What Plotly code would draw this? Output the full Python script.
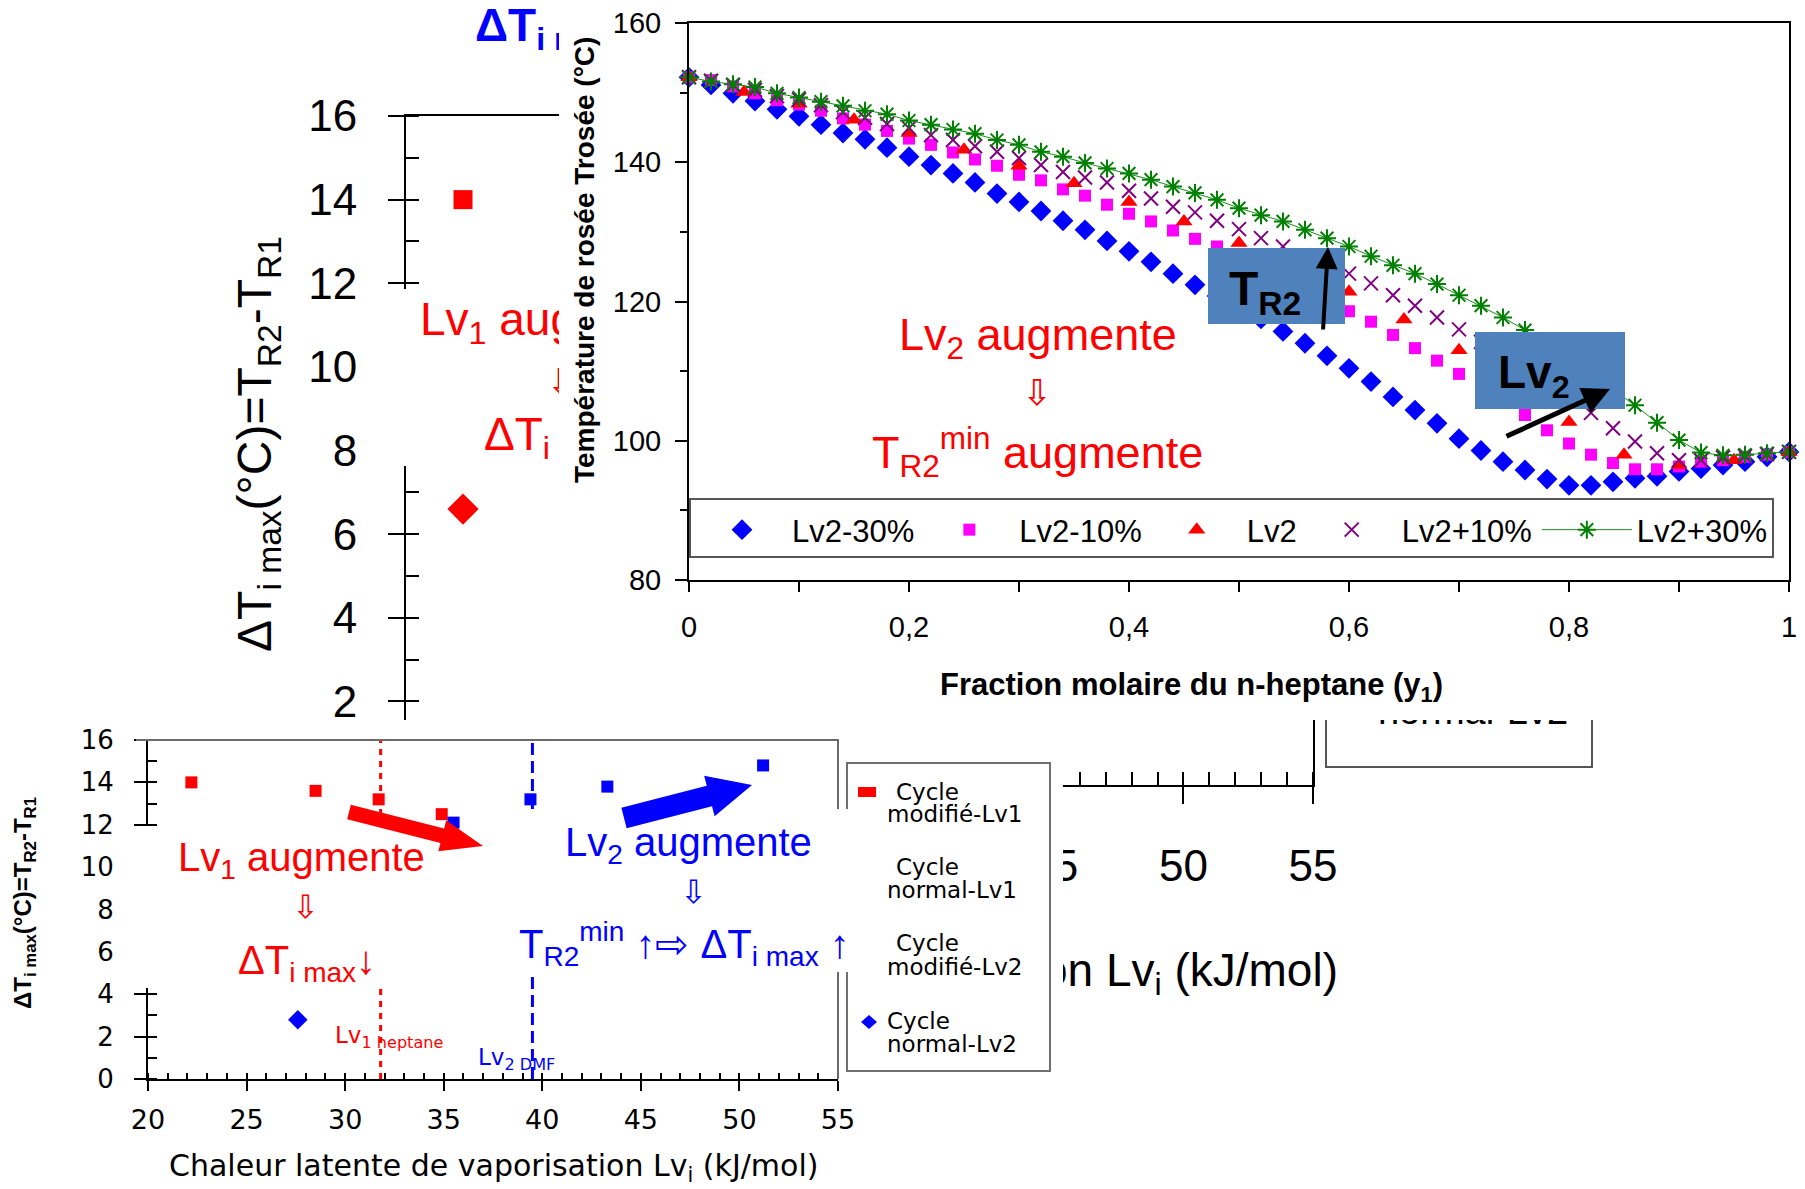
import math
import plotly.graph_objects as go

W, H = 1805, 1189
ARIAL = "Liberation Sans, Arial, sans-serif"
DEJAVU = "DejaVu Sans, sans-serif"

# ------------------------------------------------------------------
# DATA 1 : dew temperature vs mole fraction of n-heptane (top-right chart)
# ------------------------------------------------------------------
y1_frac = [0.00, 0.02, 0.04, 0.06, 0.08, 0.10, 0.12, 0.14, 0.16, 0.18,
           0.20, 0.22, 0.24, 0.26, 0.28, 0.30, 0.32, 0.34, 0.36, 0.38,
           0.40, 0.42, 0.44, 0.46, 0.48, 0.50, 0.52, 0.54, 0.56, 0.58,
           0.60, 0.62, 0.64, 0.66, 0.68, 0.70, 0.72, 0.74, 0.76, 0.78,
           0.80, 0.82, 0.84, 0.86, 0.88, 0.90, 0.92, 0.94, 0.96, 0.98, 1.00]
t_lv2_m30 = [152.2, 151.1, 149.9, 148.8, 147.6, 146.6, 145.4, 144.2, 143.3, 142.1,
             140.8, 139.6, 138.4, 137.1, 135.5, 134.3, 133.0, 131.6, 130.3, 128.7,
             127.2, 125.7, 124.0, 122.4, 120.8, 119.2, 117.5, 115.7, 114.0, 112.2,
             110.4, 108.5, 106.3, 104.4, 102.5, 100.3, 98.6, 97.0, 95.8, 94.5,
             93.6, 93.6, 94.1, 94.6, 94.9, 95.6, 96.0, 96.5, 97.0, 97.7, 98.4]
t_lv2_m10 = [152.2, 151.8, 150.9, 149.9, 148.9, 148.3, 147.4, 146.3, 145.4, 144.5,
             143.4, 142.5, 141.4, 140.4, 139.5, 138.2, 137.4, 136.1, 135.2, 133.9,
             132.6, 131.5, 130.2, 129.0, 127.9, 126.7, 125.3, 123.7, 122.0, 120.3,
             118.6, 117.1, 115.2, 113.3, 111.5, 109.6, 107.8, 105.9, 103.7, 101.5,
             99.6, 98.0, 96.8, 95.9, 95.9, 96.3, 97.0, 97.2, 97.7, 98.0, 98.4]
t_lv2_p10 = [152.2, 151.7, 151.1, 150.4, 149.5, 149.0, 148.2, 147.2, 146.4, 145.5,
             144.9, 143.9, 143.2, 142.3, 141.5, 140.6, 139.6, 138.6, 137.8, 137.1,
             135.9, 134.8, 133.6, 132.8, 131.6, 130.4, 129.1, 127.9, 126.6, 125.3,
             124.0, 122.6, 120.9, 119.4, 117.7, 116.0, 114.2, 112.3, 110.3, 108.3,
             106.2, 104.0, 101.8, 99.9, 98.2, 97.2, 97.2, 97.6, 97.8, 98.1, 98.4]
t_lv2_p30 = [152.2, 151.6, 151.2, 150.8, 149.9, 149.3, 148.7, 148.1, 147.4, 146.9,
             146.0, 145.4, 144.7, 144.1, 143.2, 142.5, 141.5, 140.8, 139.9, 139.1,
             138.4, 137.5, 136.5, 135.6, 134.6, 133.4, 132.4, 131.5, 130.3, 129.1,
             127.9, 126.5, 125.2, 124.0, 122.5, 120.9, 119.4, 117.7, 115.9, 114.0,
             111.8, 109.5, 107.3, 105.1, 102.6, 100.1, 98.3, 97.9, 98.0, 98.2, 98.4]
y1_frac_lv2 = [0.00, 0.05, 0.10, 0.15, 0.20, 0.25, 0.30, 0.35, 0.40, 0.45,
               0.50, 0.55, 0.60, 0.65, 0.70, 0.75, 0.80, 0.85, 0.90, 0.95, 1.00]
t_lv2 = [152.2, 150.1, 148.4, 146.1, 144.2, 141.8, 139.5, 137.0, 134.3, 131.5,
         128.4, 125.0, 121.4, 117.4, 113.0, 107.9, 102.7, 98.0, 96.5, 97.2, 98.4]
top_series_names = ["Lv2-30%", "Lv2-10%", "Lv2", "Lv2+10%", "Lv2+30%"]
top_xticks = [0, 0.2, 0.4, 0.6, 0.8, 1.0]
top_xticklabels = ["0", "0,2", "0,4", "0,6", "0,8", "1"]
top_xminor = [0.1, 0.3, 0.5, 0.7, 0.9]
top_yticks = [80, 100, 120, 140, 160]

# ------------------------------------------------------------------
# DATA 2 : ΔT_i max vs latent heat of vaporisation (bottom chart, and its
#          enlarged copy in the background)
# ------------------------------------------------------------------
lv_mod_lv1 = [22.2, 28.5, 31.7, 34.9]      # Cycle modifié-Lv1
dt_mod_lv1 = [14.0, 13.6, 13.2, 12.5]
lv_norm_lv1 = [22.2]                       # Cycle normal-Lv1
dt_norm_lv1 = [6.6]
lv_mod_lv2 = [35.5, 39.4, 43.3, 51.2]      # Cycle modifié-Lv2
dt_mod_lv2 = [12.1, 13.2, 13.8, 14.8]
lv_norm_lv2 = [27.6]                       # Cycle normal-Lv2
dt_norm_lv2 = [2.8]
lv1_heptane = 31.8
lv2_dmf = 39.5
lv_ticks = [20, 25, 30, 35, 40, 45, 50, 55]
dt_ticks = [0, 2, 4, 6, 8, 10, 12, 14, 16]
lv_range = [20, 55]
dt_range = [0, 16]


# ------------------------------------------------------------------
def px(v):
    return v / W


def py(v):
    return 1 - v / H


fig = go.Figure()
axes_layout = {}


def hidden_axis(domain, anchor):
    return dict(domain=domain, anchor=anchor, range=[0, 1], showline=False, showgrid=False,
                zeroline=False, showticklabels=False, ticks="", fixedrange=True)


def panel(n, box):
    """invisible panel (white background) occupying a pixel box"""
    x0, y0, x1, y1 = box
    axes_layout[f"xaxis{n}"] = hidden_axis([px(x0), px(x1)], f"y{n}")
    axes_layout[f"yaxis{n}"] = hidden_axis([py(y1), py(y0)], f"x{n}")


def panel_text(n, box, X, Y, text, size, color="black", family=ARIAL, pos="middle right"):
    """text drawn inside a panel so that later panels can hide part of it"""
    x0, y0, x1, y1 = box
    fig.add_trace(go.Scatter(x=[(X - x0) / (x1 - x0)], y=[(y1 - Y) / (y1 - y0)], mode="text",
                             text=[text], textposition=pos,
                             textfont=dict(family=family, size=size, color=color),
                             xaxis=f"x{n}", yaxis=f"y{n}", showlegend=False,
                             cliponaxis=False, hoverinfo="skip"))


# ---------------- 1. background (large, partly hidden) chart : x / y ----------------
fig.add_trace(go.Scatter(x=[lv1_heptane, lv1_heptane], y=dt_range, mode="lines",
                         line=dict(color="red", width=4, dash="8px,8px"),
                         xaxis="x", yaxis="y", showlegend=False, hoverinfo="skip"))
fig.add_trace(go.Scatter(x=[lv2_dmf, lv2_dmf], y=dt_range, mode="lines",
                         line=dict(color="blue", width=4, dash="16px,8px"),
                         xaxis="x", yaxis="y", showlegend=False, hoverinfo="skip"))
for xs, ys, sym, col, sz in [(lv_mod_lv1, dt_mod_lv1, "square", "red", 19),
                             (lv_norm_lv1, dt_norm_lv1, "diamond", "red", 24),
                             (lv_mod_lv2, dt_mod_lv2, "square", "blue", 19),
                             (lv_norm_lv2, dt_norm_lv2, "diamond", "blue", 24)]:
    fig.add_trace(go.Scatter(x=xs, y=ys, mode="markers",
                             marker=dict(symbol=sym, color=col, size=sz),
                             xaxis="x", yaxis="y", showlegend=False, cliponaxis=False))

# ---------------- 2-5. text panels of the background chart ----------------
BOX_A = (385, 289, 600, 466)          # white label box hiding part of the y axis
panel(2, BOX_A)
panel_text(2, BOX_A, 420, 323, "Lv<sub>1</sub> augmente", 46, color="red")
panel_text(2, BOX_A, 562, 386, "⇩", 37, color="red", family=DEJAVU, pos="middle center")
panel_text(2, BOX_A, 484, 438, "ΔT<sub>i max</sub>↓", 46, color="red")
BOX_B = (470, 20, 480, 36)
panel(3, BOX_B)
panel_text(3, BOX_B, 475, 29, "<b>ΔT<sub>i max</sub></b>", 46, color="blue")
BOX_C = (1331, 969, 1341, 979)
panel(4, BOX_C)
panel_text(4, BOX_C, 1338, 974, "Chaleur latente de vaporisation Lv<sub>i</sub> (kJ/mol)", 46,
           pos="middle left")
BOX_D = (1468, 709, 1478, 719)
panel(5, BOX_D)
panel_text(5, BOX_D, 1473, 714, "normal-Lv2", 38, pos="middle center")

# ---------------- 6. cover panel for the top-right figure ----------------
panel(6, (559, 0, W, 720))
fig.add_trace(go.Scatter(x=[], y=[], xaxis="x6", yaxis="y6", showlegend=False))

# ---------------- 7. top-right chart ----------------
fig.add_trace(go.Scatter(x=y1_frac, y=t_lv2_m30, mode="markers", name=top_series_names[0],
                         marker=dict(symbol="diamond", color="#0000FF", size=16),
                         xaxis="x7", yaxis="y7", cliponaxis=False))
fig.add_trace(go.Scatter(x=y1_frac, y=t_lv2_m10, mode="markers", name=top_series_names[1],
                         marker=dict(symbol="square", color="#FF00FF", size=12),
                         xaxis="x7", yaxis="y7", cliponaxis=False))
fig.add_trace(go.Scatter(x=y1_frac_lv2, y=t_lv2, mode="markers", name=top_series_names[2],
                         marker=dict(symbol="triangle-up", color="#FF0000", size=15),
                         xaxis="x7", yaxis="y7", cliponaxis=False))
fig.add_trace(go.Scatter(x=y1_frac, y=t_lv2_p10, mode="markers", name=top_series_names[3],
                         marker=dict(symbol="x-thin-open", color="#800080", size=14,
                                     line=dict(width=2, color="#800080")),
                         xaxis="x7", yaxis="y7", cliponaxis=False))
fig.add_trace(go.Scatter(x=y1_frac, y=t_lv2_p30, mode="lines+markers", name=top_series_names[4],
                         line=dict(color="#1e8c1e", width=1),
                         marker=dict(symbol="asterisk-open", color="#008000", size=15,
                                     line=dict(width=2, color="#008000")),
                         xaxis="x7", yaxis="y7", cliponaxis=False))

# ---------------- 8. cover panel for the bottom figure ----------------
panel(8, (0, 720, 1063, H))
fig.add_trace(go.Scatter(x=[], y=[], xaxis="x8", yaxis="y8", showlegend=False))

# ---------------- 9. bottom-left chart ----------------
fig.add_trace(go.Scatter(x=[lv1_heptane, lv1_heptane], y=dt_range, mode="lines",
                         line=dict(color="red", width=3, dash="6px,6px"),
                         xaxis="x9", yaxis="y9", showlegend=False, hoverinfo="skip"))
fig.add_trace(go.Scatter(x=[lv2_dmf, lv2_dmf], y=dt_range, mode="lines",
                         line=dict(color="blue", width=3, dash="12px,6px"),
                         xaxis="x9", yaxis="y9", showlegend=False, hoverinfo="skip"))
for xs, ys, sym, col, sz in [(lv_mod_lv1, dt_mod_lv1, "square", "red", 12),
                             (lv_norm_lv1, dt_norm_lv1, "diamond", "red", 15),
                             (lv_mod_lv2, dt_mod_lv2, "square", "blue", 12),
                             (lv_norm_lv2, dt_norm_lv2, "diamond", "blue", 15)]:
    fig.add_trace(go.Scatter(x=xs, y=ys, mode="markers",
                             marker=dict(symbol=sym, color=col, size=sz),
                             xaxis="x9", yaxis="y9", showlegend=False, cliponaxis=False))

# ------------------------------------------------------------------
# visible axes
# ------------------------------------------------------------------
axes_layout.update(
    xaxis=dict(domain=[px(406), px(1313)], anchor="y", range=lv_range, tickvals=lv_ticks,
               showline=True, mirror=True, linecolor="black", linewidth=2,
               ticks="outside", ticklen=17, tickwidth=2, tickcolor="black",
               tickfont=dict(family=ARIAL, size=44, color="black"), ticklabelstandoff=24,
               minor=dict(dtick=1, tick0=20, ticks="inside", ticklen=13, tickwidth=2, tickcolor="black"),
               showgrid=False, zeroline=False, fixedrange=True),
    yaxis=dict(domain=[py(785), py(116)], anchor="x", range=dt_range, tickvals=dt_ticks,
               showline=True, mirror=True, linecolor="black", linewidth=2,
               ticks="outside", ticklen=16, tickwidth=2, tickcolor="black",
               tickfont=dict(family=ARIAL, size=44, color="black"), ticklabelstandoff=22,
               minor=dict(dtick=1, tick0=0, ticks="inside", ticklen=13, tickwidth=2, tickcolor="black"),
               showgrid=False, zeroline=False, fixedrange=True),
    xaxis7=dict(domain=[px(689), px(1789)], anchor="y7", range=[0, 1],
                tickvals=top_xticks, ticktext=top_xticklabels,
                showline=True, mirror=True, linecolor="black", linewidth=2,
                ticks="outside", ticklen=10, tickwidth=2, tickcolor="black",
                tickfont=dict(family=ARIAL, size=29, color="black"), ticklabelstandoff=10,
                minor=dict(tickvals=top_xminor, ticks="outside", ticklen=10, tickwidth=2, tickcolor="black"),
                showgrid=False, zeroline=False, fixedrange=True),
    yaxis7=dict(domain=[py(580), py(23)], anchor="x7", range=[80, 160], tickvals=top_yticks,
                showline=True, mirror=True, linecolor="black", linewidth=2,
                ticks="outside", ticklen=12, tickwidth=2, tickcolor="black",
                tickfont=dict(family=ARIAL, size=29, color="black"), ticklabelstandoff=8,
                minor=dict(dtick=10, tick0=80, ticks="outside", ticklen=7, tickwidth=2, tickcolor="black"),
                showgrid=False, zeroline=False, fixedrange=True),
    xaxis9=dict(domain=[px(148), px(838)], anchor="y9", range=lv_range, tickvals=lv_ticks,
                showline=True, mirror=False, linecolor="black", linewidth=2,
                ticks="outside", ticklen=10, tickwidth=2, tickcolor="black",
                tickfont=dict(family=DEJAVU, size=27, color="black"), ticklabelstandoff=6,
                minor=dict(dtick=1, tick0=20, ticks="inside", ticklen=6, tickwidth=1.5, tickcolor="black"),
                showgrid=False, zeroline=False, fixedrange=True),
    yaxis9=dict(domain=[py(1079), py(740)], anchor="x9", range=dt_range, tickvals=dt_ticks,
                showline=True, mirror=False, linecolor="black", linewidth=2,
                ticks="outside", ticklen=12, tickwidth=2, tickcolor="black",
                tickfont=dict(family=DEJAVU, size=26, color="black"), ticklabelstandoff=15,
                minor=dict(dtick=1, tick0=0, ticks="inside", ticklen=9, tickwidth=1.5, tickcolor="black"),
                showgrid=False, zeroline=False, fixedrange=True),
)
fig.update_layout(**axes_layout)


# ------------------------------------------------------------------
# shapes (decorations)
# ------------------------------------------------------------------
def rect(x0, y0, x1, y1, fill="rgba(0,0,0,0)", line_color="rgba(0,0,0,0)", lw=0):
    return dict(type="rect", xref="paper", yref="paper", x0=px(x0), x1=px(x1), y0=py(y1), y1=py(y0),
                fillcolor=fill, line=dict(color=line_color, width=lw), layer="above")


def polyline(pts, color, lw, closed=False, fill="rgba(0,0,0,0)"):
    path = "M " + " L ".join(f"{px(a):.6f},{py(b):.6f}" for a, b in pts) + (" Z" if closed else "")
    return dict(type="path", path=path, xref="paper", yref="paper", fillcolor=fill,
                line=dict(color=color, width=lw), layer="above")


def block_arrow(tail, tip, sw, hw, hl, color):
    (x0, y0), (x1, y1) = tail, tip
    L = math.hypot(x1 - x0, y1 - y0)
    ux, uy = (x1 - x0) / L, (y1 - y0) / L
    nx, ny = -uy, ux
    bx, by = x1 - ux * hl, y1 - uy * hl
    pts = [(x0 + nx * sw / 2, y0 + ny * sw / 2), (bx + nx * sw / 2, by + ny * sw / 2),
           (bx + nx * hw / 2, by + ny * hw / 2), (x1, y1),
           (bx - nx * hw / 2, by - ny * hw / 2), (bx - nx * sw / 2, by - ny * sw / 2),
           (x0 - nx * sw / 2, y0 - ny * sw / 2)]
    return polyline(pts, color, 0, closed=True, fill=color)


shapes = [
    # visible bottom of the background legend frame
    polyline([(1326, 720), (1326, 767), (1592, 767), (1592, 720)], "#555555", 2),
    # legend frame of the top-right chart
    rect(690, 499, 1773, 557, fill="white", line_color="#555555", lw=2),
    # blue labels of the top-right chart
    rect(1208, 248, 1345, 324, fill="#4F81BD"),
    rect(1475, 332, 1625, 409, fill="#4F81BD"),
    # bottom chart frame (top & right, grey)
    polyline([(136, 740), (838, 740), (838, 1079)], "#6a6a6a", 2),
    # bottom chart legend frame
    rect(847, 763, 1050, 1071, fill="white", line_color="#707070", lw=2),
    # white backgrounds of the two text blocks in the bottom chart
    rect(128, 826, 392, 988, fill="white"),
    rect(505, 809, 880, 972, fill="white"),
    # bottom chart legend symbols
    rect(858, 787, 876, 797, fill="red"),
    polyline([(861, 1022), (869, 1015), (877, 1022), (869, 1029)], "blue", 0, closed=True, fill="blue"),
    # block arrows
    block_arrow((349, 812), (483, 846), 15, 32, 42, "red"),
    block_arrow((624, 818), (752, 785), 21, 42, 44, "blue"),
]


# ------------------------------------------------------------------
# annotations
# ------------------------------------------------------------------
def ann(text, x, y, size, color="black", family=ARIAL, xanchor="left", yanchor="middle", angle=0):
    return dict(text=text, x=px(x), y=py(y), xref="paper", yref="paper", showarrow=False,
                font=dict(size=size, color=color, family=family), xanchor=xanchor, yanchor=yanchor,
                textangle=angle, borderpad=0)


def arrow(tail, tip, width=4):
    return dict(text="", x=px(tip[0]), y=py(tip[1]), xref="paper", yref="paper", showarrow=True,
                ax=tail[0] - tip[0], ay=tail[1] - tip[1], axref="pixel", ayref="pixel",
                arrowhead=2, arrowsize=1.1, arrowwidth=width, arrowcolor="black", standoff=0)


annotations = [
    # ---- background chart
    ann("ΔT<sub>i max</sub>(°C)=T<sub>R2</sub>-T<sub>R1</sub>", 258, 444, 48, xanchor="center", angle=-90),
    # ---- top-right chart
    ann("<b>Température de rosée Trosée (°C)</b>", 584, 260, 28, xanchor="center", angle=-90),
    ann("<b>Fraction molaire du n-heptane (y<sub>1</sub>)</b>", 1191, 687, 31, xanchor="center"),
    ann("Lv<sub>2</sub> augmente", 1038, 338, 45, color="red", xanchor="center"),
    ann("⇩", 1037, 392, 36, color="red", family=DEJAVU, xanchor="center"),
    ann("T<sub>R2</sub><sup>min</sup> augmente", 1037, 452, 45, color="red", xanchor="center"),
    ann("<b>T<sub>R2</sub></b>", 1228, 292, 48),
    ann("<b>Lv<sub>2</sub></b>", 1497, 375, 46),
    arrow((1323, 331), (1328, 247), 4),
    arrow((1505, 437), (1610, 389), 5),
    # ---- bottom chart
    ann("<b>ΔT<sub>i max</sub>(°C)=T<sub>R2</sub>-T<sub>R1</sub></b>", 25, 903, 24, xanchor="center", angle=-90),
    ann("Chaleur latente de vaporisation Lv<sub>i</sub> (kJ/mol)", 493, 1167, 30, family=DEJAVU, xanchor="center"),
    ann("Lv<sub>1</sub> augmente", 177, 860, 40, color="red"),
    ann("⇩", 305, 907, 32, color="red", family=DEJAVU, xanchor="center"),
    ann("ΔT<sub>i max</sub>↓", 237, 963, 40, color="red"),
    ann("Lv<sub>1 heptane</sub>", 334, 1037, 23, color="red", family=DEJAVU),
    ann("Lv<sub>2 DMF</sub>", 477, 1059, 23, color="blue", family=DEJAVU),
    ann("Lv<sub>2</sub> augmente", 564, 845, 40, color="blue"),
    ann("⇩", 693, 892, 32, color="blue", family=DEJAVU, xanchor="center"),
    ann("T<sub>R2</sub><sup>min</sup> ↑⇨ ΔT<sub>i max</sub> ↑", 518, 944, 40, color="blue"),
    # bottom legend texts
    ann("Cycle", 895, 792, 23, family=DEJAVU),
    ann("modifié-Lv1", 886, 814, 23, family=DEJAVU),
    ann("Cycle", 895, 867, 23, family=DEJAVU),
    ann("normal-Lv1", 886, 890, 23, family=DEJAVU),
    ann("Cycle", 895, 943, 23, family=DEJAVU),
    ann("modifié-Lv2", 886, 967, 23, family=DEJAVU),
    ann("Cycle", 886, 1021, 23, family=DEJAVU),
    ann("normal-Lv2", 886, 1044, 23, family=DEJAVU),
]

fig.update_layout(
    width=W, height=H, autosize=False,
    margin=dict(l=0, r=0, t=0, b=0, pad=0, autoexpand=False),
    paper_bgcolor="white", plot_bgcolor="white",
    shapes=shapes, annotations=annotations,
    showlegend=True,
    legend=dict(orientation="h", x=px(692), y=py(530), xanchor="left", yanchor="middle",
                bgcolor="rgba(0,0,0,0)", borderwidth=0, itemwidth=90, traceorder="normal",
                font=dict(family=ARIAL, size=31, color="black")),
    hovermode=False,
)

fig.write_html("out.html")
